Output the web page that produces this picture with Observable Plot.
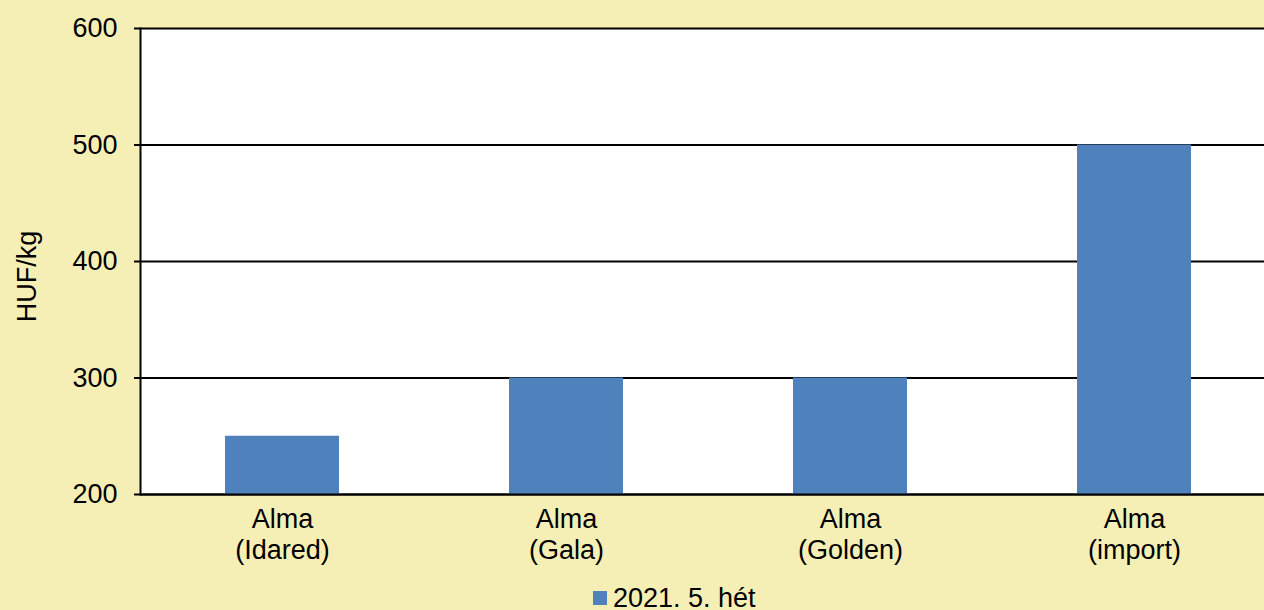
<!DOCTYPE html>
<html><head><meta charset="utf-8">
<script src="https://cdn.jsdelivr.net/npm/d3@7"></script>
<script src="https://cdn.jsdelivr.net/npm/@observablehq/plot@0.6"></script>
<style>
html,body{margin:0;padding:0;background:#F5EFB5;overflow:hidden;width:1264px;height:610px;}
#chart{position:absolute;left:0;top:0;}
#legend{position:absolute;left:593px;top:585px;font-family:"Liberation Sans",Arial,sans-serif;font-size:27px;line-height:26px;display:flex;align-items:center;white-space:nowrap;color:#000;}
#legend .sw{display:inline-block;width:14px;height:14px;margin-right:6px;}
</style></head><body><div id="chart"></div><div id="legend"></div>
<script>
const categories = ["Alma\n(Idared)", "Alma\n(Gala)", "Alma\n(Golden)", "Alma\n(import)"];
const values = [250, 300, 300, 500];
const yTicks = [200, 300, 400, 500, 600];
const seriesName = "2021. 5. hét";
const yLabel = "HUF/kg";
const barColor = "#4F81BD";

const data = categories.map((c, i) => ({category: c, value: values[i]}));

const plot = Plot.plot({
  width: 1264, height: 580,
  marginTop: 28, marginBottom: 86, marginLeft: 140, marginRight: 0,
  style: {background: "transparent", fontFamily: "'Liberation Sans', Arial, sans-serif", fontSize: "27px", color: "black"},
  x: {domain: categories, range: [140, 1276], paddingInner: 0.6, paddingOuter: 0.3, align: 0.5},
  y: {domain: [yTicks[0], yTicks[yTicks.length - 1]]},
  marks: [
    Plot.frame({fill: "white", stroke: null}),
    Plot.ruleY(yTicks, {stroke: "black", strokeWidth: 2}),
    Plot.barY(data, {x: "category", y1: yTicks[0], y2: "value", fill: barColor}),
    Plot.ruleY([yTicks[0]], {stroke: "black", strokeWidth: 2}),
    Plot.frame({anchor: "left", stroke: "black", strokeWidth: 2}),
    Plot.axisY({ticks: yTicks, tickSize: 6, tickPadding: 17, strokeWidth: 2, stroke: "black", label: null, fontSize: 27}),
    Plot.axisX({tickSize: 0, tickPadding: 12, label: null, lineHeight: 1.13, fontSize: 27}),
    Plot.text([yLabel], {frameAnchor: "left", textAnchor: "middle", dx: -113, dy: 15, rotate: -90, fontSize: 27, fill: "black"})
  ]
});
document.getElementById("chart").appendChild(plot);

const lg = document.getElementById("legend");
const sw = document.createElement("span");
sw.className = "sw";
sw.style.background = barColor;
lg.appendChild(sw);
lg.appendChild(document.createTextNode(seriesName));
</script>
</body></html>
